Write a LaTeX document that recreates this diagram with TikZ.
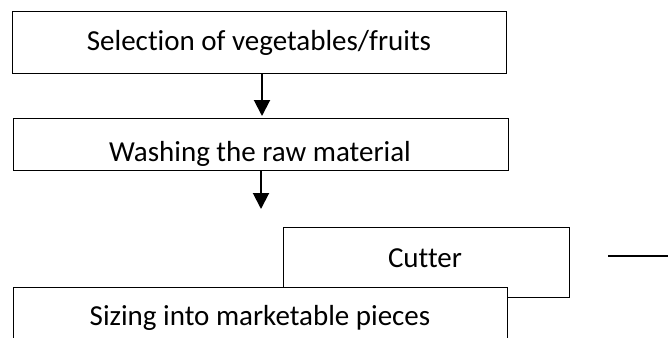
\documentclass[tikz,border=0pt]{standalone}
\usepackage{fontspec}
\setmainfont[Ligatures={NoCommon}]{Carlito}
\usetikzlibrary{arrows.meta}
\tikzset{
  box/.style={draw=black, line width=1.4pt, fill=white, rectangle, inner sep=0pt, anchor=north west},
  lbl/.style={anchor=base, inner sep=0pt, font=\fontsize{29}{33}\selectfont},
  arr/.style={line width=2pt, -{Triangle[length=16pt,width=16pt]}},
  plain/.style={line width=1.6pt}
}
\begin{document}
\begin{tikzpicture}[x=1pt,y=-1pt]
\clip (0,0) rectangle (668,337);
\fill[white] (0,0) rectangle (668,337);
% boxes
\node[box, minimum width=494pt, minimum height=62pt] (b1) at (12,11) {};
\node[lbl] (t1) at (259,50) {Selection of vegetables/fruits};
\node[box, minimum width=495pt, minimum height=52pt] (b2) at (13,118) {};
\node[lbl] (t2) at (260,161) {Washing the raw material};
\node[box, minimum width=286pt, minimum height=70pt] (b3) at (283,227) {};
\node[lbl] (t3) at (425,267) {Cutter};
\node[box, minimum width=494pt, minimum height=70pt] (b4) at (13,287) {};
\node[lbl] (t4) at (260,325) {Sizing into marketable pieces};
% connectors
\coordinate (a1) at (262,116);
\coordinate (a2) at (261,209);
\draw[arr] (b1.south -| a1) -- (a1);
\draw[arr] (b2.south -| a2) -- (a2);
\coordinate (l1) at (608,256);
\coordinate (l2) at (668,256);
\draw[plain] (l1) -- (l2);
\end{tikzpicture}
\end{document}
